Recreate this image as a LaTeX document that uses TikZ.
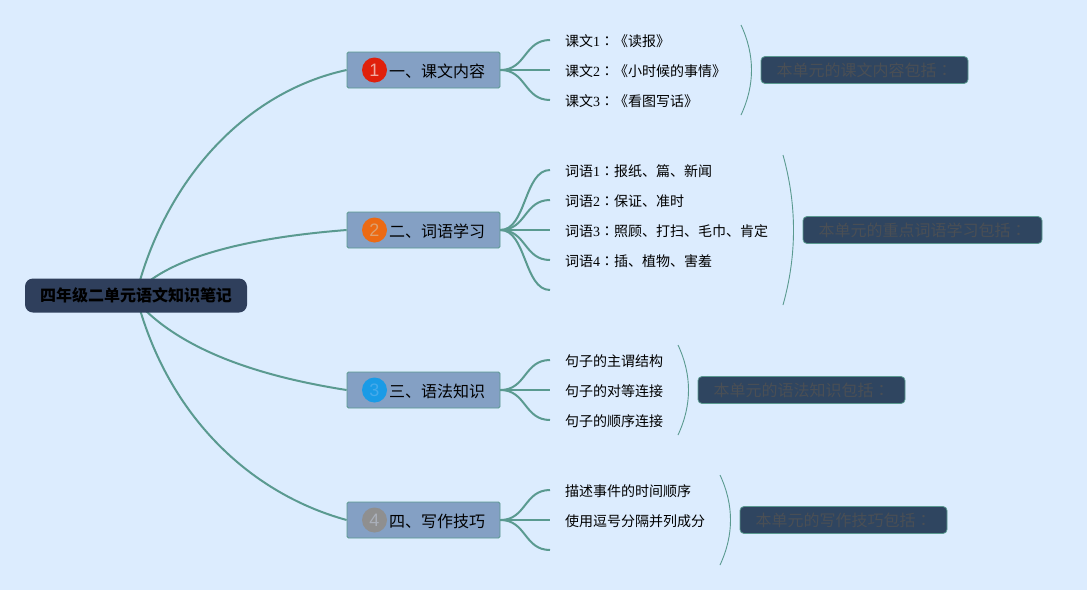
\documentclass[tikz,border=0pt]{standalone}
\usepackage{fontspec}
\setmainfont{Noto Sans CJK SC}
\newfontfamily\latinf{Liberation Serif}
\newfontfamily\numf{Liberation Sans}
\newfontfamily\tcf{Noto Sans CJK TC}
\newcommand{\cln}{{\tcf ：}}
\definecolor{bgc}{HTML}{DCECFE}
\definecolor{linkc}{HTML}{5A9A90}
\definecolor{rootc}{HTML}{2F3F5C}
\definecolor{branchc}{HTML}{84A0C4}
\definecolor{sumc}{HTML}{2F4560}
\definecolor{sumt}{HTML}{4A4F55}
\tikzset{
  x=1pt,y=-1pt,
  rootbox/.style={draw=none,fill=rootc,rounded corners=8pt,minimum width=222pt,minimum height=34pt,inner sep=0pt,font=\fontsize{16}{16}\selectfont\bfseries,text=black},
  branchbox/.style={draw=linkc,line width=0.8pt,fill=branchc,rounded corners=1.5pt,minimum width=153pt,minimum height=36pt,inner sep=0pt},
  branchtext/.style={inner sep=0pt,font=\fontsize{16}{16}\selectfont,text=black,anchor=west},
  badge/.style={circle,minimum size=25pt,inner sep=0pt,font=\numf\fontsize{18}{18}\selectfont},
  leaf/.style={inner sep=0pt,anchor=west,font=\fontsize{14}{14}\selectfont,text=black},
  sumbox/.style={draw=linkc,line width=0.8pt,fill=sumc,rounded corners=4pt,minimum height=27pt,inner sep=0pt,font=\fontsize{16}{16}\selectfont,text=sumt},
  main/.style={draw=linkc,line width=2pt},
  twig/.style={draw=linkc,line width=2pt},
  arcl/.style={draw=linkc,line width=0.9pt},
}
\begin{document}
\begin{tikzpicture}
\useasboundingbox (0,0) rectangle (1087,590);
\fill[bgc] (0,0) rectangle (1087,590);

% free ends
\coordinate (c) at (136,295);
\coordinate (c2) at (148,282);
\coordinate (c3) at (143,308);
\coordinate (a1) at (550,40);\coordinate (a2) at (550,70);\coordinate (a3) at (550,100);
\coordinate (b1) at (550,170);\coordinate (b2) at (550,200);\coordinate (b3) at (550,230);\coordinate (b4) at (550,260);\coordinate (b5) at (550,290);
\coordinate (d1) at (550,360);\coordinate (d2) at (550,390);\coordinate (d3) at (550,420);
\coordinate (e1) at (550,490);\coordinate (e2) at (550,520);\coordinate (e3) at (550,550);

\node[branchbox] (B1) at (423.5,70) {};
\node[branchbox] (B2) at (423.5,230) {};
\node[branchbox] (B3) at (423.5,390) {};
\node[branchbox] (B4) at (423.5,520) {};

% main curves
\draw[main] (c) .. controls (165,180) and (245,92) .. (B1.west);
\draw[main] (c2) .. controls (190,250) and (270,236) .. (B2.west);
\draw[main] (c3) .. controls (190,355) and (270,378) .. (B3.west);
\draw[main] (c) .. controls (165,410) and (245,492) .. (B4.west);

\node[rootbox] (R) at (136,295.5) {四年级二单元语文知识笔记};

\node[badge,fill={rgb,255:red,224;green,32;blue,11},text={rgb,255:red,240;green,170;blue,160}] (n1) at (374.5,70) {1};
\node[badge,fill={rgb,255:red,236;green,106;blue,19},text={rgb,255:red,222;green,160;blue,110}] (n2) at (374.5,230) {2};
\node[badge,fill={rgb,255:red,26;green,155;blue,230},text={rgb,255:red,70;green,170;blue,235}] (n3) at (374.5,390) {3};
\node[badge,fill={rgb,255:red,143;green,143;blue,143},text={rgb,255:red,170;green,175;blue,185}] (n4) at (374.5,520) {4};

\node[branchtext] (t1) at (389,71) {一、课文内容};
\node[branchtext] (t2) at (389,231) {二、词语学习};
\node[branchtext] (t3) at (389,391) {三、语法知识};
\node[branchtext] (t4) at (389,521) {四、写作技巧};

\node[leaf] (l11) at (565,41) {课文{\latinf 1}\cln《读报》};
\node[leaf] (l12) at (565,71) {课文{\latinf 2}\cln《小时候的事情》};
\node[leaf] (l13) at (565,101) {课文{\latinf 3}\cln《看图写话》};
\node[leaf] (l21) at (565,171) {词语{\latinf 1}\cln 报纸、篇、新闻};
\node[leaf] (l22) at (565,201) {词语{\latinf 2}\cln 保证、准时};
\node[leaf] (l23) at (565,231) {词语{\latinf 3}\cln 照顾、打扫、毛巾、肯定};
\node[leaf] (l24) at (565,261) {词语{\latinf 4}\cln 插、植物、害羞};
\node[leaf] (l31) at (565,361) {句子的主谓结构};
\node[leaf] (l32) at (565,391) {句子的对等连接};
\node[leaf] (l33) at (565,421) {句子的顺序连接};
\node[leaf] (l41) at (565,491) {描述事件的时间顺序};
\node[leaf] (l42) at (565,521) {使用逗号分隔并列成分};

\foreach \b/\t in {B1/a1,B1/a2,B1/a3,B2/b1,B2/b2,B2/b3,B2/b4,B2/b5,B3/d1,B3/d2,B3/d3,B4/e1,B4/e2,B4/e3}{
  \path (\t) coordinate (tt);
  \draw[twig] (\b.east) .. controls +(26,0) and ([xshift=-26pt]tt) .. (tt);
}

\coordinate (p1a) at (741,25);\coordinate (p1b) at (741,115);
\coordinate (p2a) at (783,155);\coordinate (p2b) at (783,305);
\coordinate (p3a) at (678,345);\coordinate (p3b) at (678,435);
\coordinate (p4a) at (720,475);\coordinate (p4b) at (720,565);

\draw[arcl] (p1a) .. controls (755,55) and (755,85) .. (p1b);
\draw[arcl] (p2a) .. controls (797,205) and (797,255) .. (p2b);
\draw[arcl] (p3a) .. controls (692,375) and (692,405) .. (p3b);
\draw[arcl] (p4a) .. controls (734,505) and (734,535) .. (p4b);

\node[sumbox,minimum width=207pt] (s1) at (864.5,70) {\raisebox{-1pt}{本单元的课文内容包括\cln}};
\node[sumbox,minimum width=239pt] (s2) at (922.5,230) {\raisebox{-1pt}{本单元的重点词语学习包括\cln}};
\node[sumbox,minimum width=207pt] (s3) at (801.5,390) {\raisebox{-1pt}{本单元的语法知识包括\cln}};
\node[sumbox,minimum width=207pt] (s4) at (843.5,520) {\raisebox{-1pt}{本单元的写作技巧包括\cln}};
\end{tikzpicture}
\end{document}
